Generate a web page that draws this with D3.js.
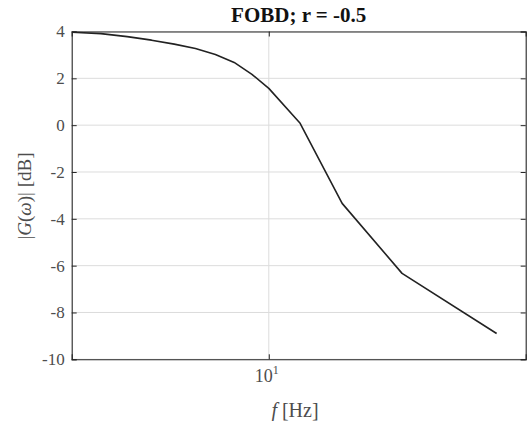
<!DOCTYPE html>
<html>
<head>
<meta charset="utf-8">
<script src="https://cdn.jsdelivr.net/npm/d3@7"></script>
<style>
  html, body { margin: 0; padding: 0; background: #fff; }
  svg { display: block; }
  text { font-family: "Liberation Serif", "Times New Roman", serif; }
</style>
</head>
<body>
<svg id="chart" width="528" height="421"></svg>
<script>
// Frequency response samples (Hz) and magnitude (dB)
const freqHz = [5.5, 6, 6.5, 7, 7.5, 8, 8.5, 9, 9.5, 10, 11, 12.5, 15, 20];
const magDb  = [3.97, 3.91, 3.78, 3.63, 3.46, 3.27, 3.02, 2.68, 2.17, 1.57, 0.08, -3.34, -6.33, -8.90];
const yTicks = [4, 2, 0, -2, -4, -6, -8, -10];
const xTicks = [10];
const titleText = "FOBD; r = -0.5";

const svg = d3.select("#chart");
const plotL = 71.7, plotR = 525.7, plotT = 31.5, plotB = 359.3;

const x = d3.scaleLog().domain([5.49, 21.85]).range([plotL, plotR]);
const y = d3.scaleLinear().domain([-10, 4]).range([plotB, plotT]);

const axisColor = "#262626";
const labelColor = "#4d4d4d";
const gridColor = "#dcdcdc";

// grid
const grid = svg.append("g");
grid.selectAll("line.gy").data(yTicks).join("line")
  .attr("x1", plotL).attr("x2", plotR)
  .attr("y1", d => y(d)).attr("y2", d => y(d))
  .attr("stroke", gridColor).attr("stroke-width", 1);
grid.selectAll("line.gx").data(xTicks).join("line")
  .attr("x1", d => x(d)).attr("x2", d => x(d))
  .attr("y1", plotT).attr("y2", plotB)
  .attr("stroke", gridColor).attr("stroke-width", 1);

// curve
const line = d3.line().x((d, i) => x(freqHz[i])).y(d => y(d));
svg.append("path")
  .datum(magDb)
  .attr("d", line)
  .attr("fill", "none")
  .attr("stroke", "#222")
  .attr("stroke-width", 1.6)
  .attr("stroke-linejoin", "round");

// axes
const yAxisL = d3.axisLeft(y).tickValues(yTicks).tickSize(-5).tickPadding(7).tickFormat(d => String(d));
const gl = svg.append("g").attr("transform", `translate(${plotL},0)`).call(yAxisL);
const yAxisR = d3.axisRight(y).tickValues(yTicks).tickSize(-5).tickFormat("");
const gr = svg.append("g").attr("transform", `translate(${plotR},0)`).call(yAxisR);
const xAxisB = d3.axisBottom(x).tickValues(xTicks).tickSize(-5).tickFormat("");
const gb = svg.append("g").attr("transform", `translate(0,${plotB})`).call(xAxisB);
const xAxisT = d3.axisTop(x).tickValues(xTicks).tickSize(-5).tickFormat("");
const gt = svg.append("g").attr("transform", `translate(0,${plotT})`).call(xAxisT);

[gl, gr, gb, gt].forEach(g => {
  g.select(".domain").attr("stroke", axisColor).attr("stroke-width", 1.1);
  g.selectAll(".tick line").attr("stroke", axisColor);
});
gl.selectAll(".tick text")
  .attr("fill", labelColor)
  .style("font-size", "17px")
  .style("font-family", "'Liberation Serif', serif");

// x tick label 10^1
xTicks.forEach(t => {
  const tx = svg.append("text")
    .attr("x", x(t) - 2).attr("y", 382)
    .attr("text-anchor", "middle")
    .attr("fill", labelColor)
    .style("font-size", "18px");
  tx.append("tspan").text("10");
  tx.append("tspan").attr("dy", -8).style("font-size", "12px").text(Math.log10(t));
});

// x label
const xl = svg.append("text")
  .attr("x", 295).attr("y", 417)
  .attr("text-anchor", "middle")
  .attr("fill", labelColor)
  .style("font-size", "20px");
xl.append("tspan").style("font-style", "italic").text("f");
xl.append("tspan").text(" [Hz]");

// y label
const yl = svg.append("text")
  .attr("transform", "translate(31,196) rotate(-90)")
  .attr("text-anchor", "middle")
  .attr("fill", labelColor)
  .style("font-size", "19px");
yl.append("tspan").text("|");
yl.append("tspan").style("font-style", "italic").text("G");
yl.append("tspan").text("(");
yl.append("tspan").style("font-style", "italic").text("ω");
yl.append("tspan").text(")| [dB]");

// title
svg.append("text")
  .attr("x", (plotL + plotR) / 2).attr("y", 22)
  .attr("text-anchor", "middle")
  .attr("fill", "#111")
  .style("font-size", "21px")
  .style("font-weight", "bold")
  .text(titleText);
</script>
</body>
</html>
